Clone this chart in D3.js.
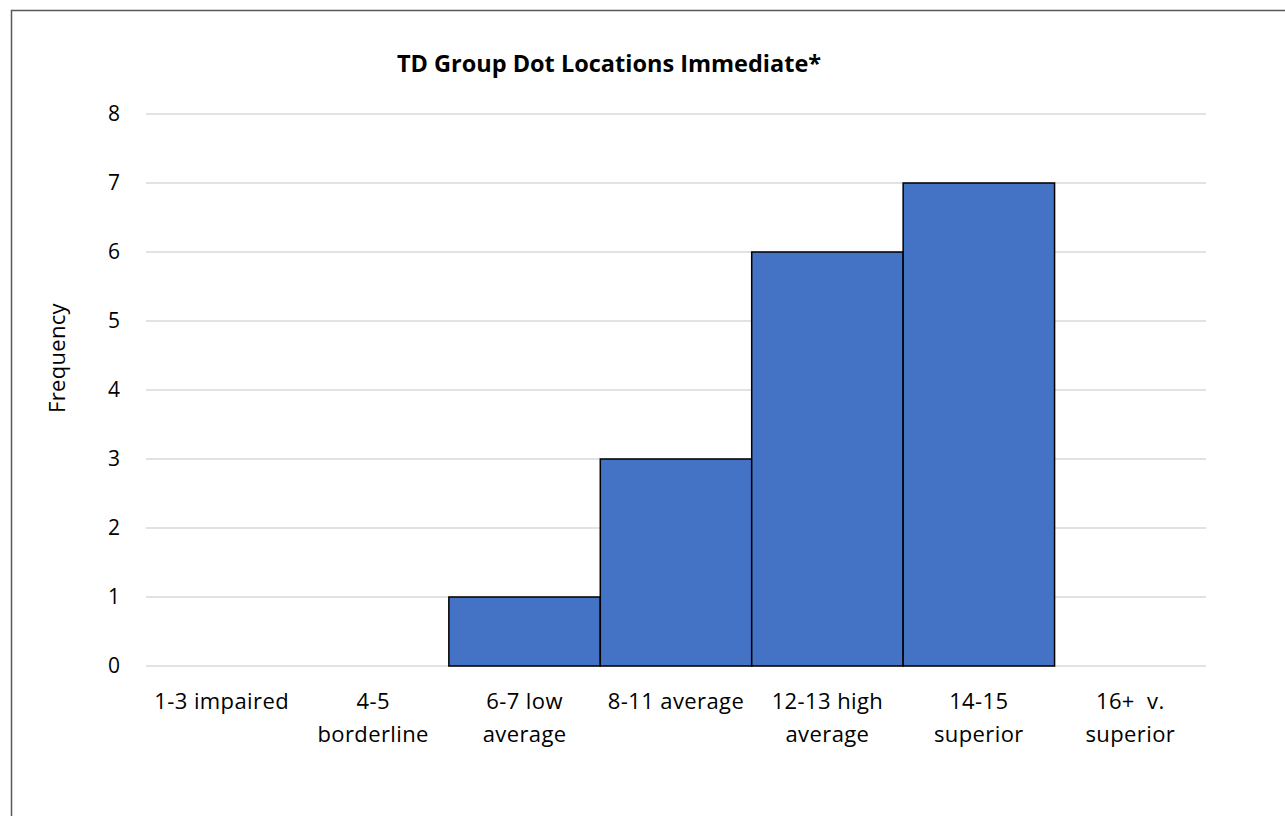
<!DOCTYPE html>
<html lang="en">
<head>
    <meta charset="UTF-8">
    <title>TD Group Dot Locations Immediate*</title>
    <style>
        body { margin: 0; background: #fff; }
        text { font-family: "Open Sans", sans-serif; fill: #000; }
    </style>
</head>
<body>
    <div id="chart"></div>
    <script src="https://d3js.org/d3.v7.min.js"></script>
    <script>
        var categories = ["1-3 impaired", "4-5 borderline", "6-7 low average", "8-11 average",
                          "12-13 high average", "14-15 superior", "16+  v. superior"];
        // label lines as drawn under the axis
        var labelLines = [["1-3 impaired"], ["4-5", "borderline"], ["6-7 low", "average"],
                          ["8-11 average"], ["12-13 high", "average"], ["14-15", "superior"],
                          ["16+\u00a0 v.", "superior"]];
        var frequency = [0, 0, 1, 3, 6, 7, 0];
        var yTicks = [0, 1, 2, 3, 4, 5, 6, 7, 8];

        var W = 1285, H = 816;
        var margin = {top: 114, right: 79, bottom: 150, left: 146},
            width = W - margin.left - margin.right,
            height = H - margin.top - margin.bottom;

        var svg = d3.select('#chart')
            .append('svg')
                .attr('width', W)
                .attr('height', H);

        // outer chart border
        svg.append('rect')
            .attr('x', 11.5)
            .attr('y', 10.5)
            .attr('width', W + 20)
            .attr('height', H + 20)
            .attr('fill', 'none')
            .attr('stroke', '#595959')
            .attr('stroke-width', 1.5);

        svg.append('text')
            .attr('x', 609)
            .attr('y', 72)
            .attr('text-anchor', 'middle')
            .style('font-size', '23.5px')
            .style('font-weight', 'bold')
            .text('TD Group Dot Locations Immediate*');

        var g = svg.append('g')
            .attr('transform', 'translate(' + margin.left + ',' + margin.top + ')');

        var x = d3.scaleBand()
            .domain(categories)
            .range([0, width])
            .padding(0);

        var y = d3.scaleLinear()
            .domain([0, 8])
            .range([height, 0]);

        // gridlines
        g.append('g')
            .selectAll('line')
            .data(yTicks)
            .enter().append('line')
                .attr('x1', 0)
                .attr('x2', width)
                .attr('y1', d => y(d))
                .attr('y2', d => y(d))
                .attr('stroke', '#d9d9d9')
                .attr('stroke-width', 1.5);

        // y axis labels
        var yAxis = g.append('g')
            .call(d3.axisLeft(y).tickValues(yTicks).tickSize(0).tickPadding(26));
        yAxis.select('.domain').remove();
        yAxis.selectAll('text')
            .style('font-size', '21px')
            .style('font-family', '"Open Sans", sans-serif');

        var bins = categories.map((c, i) => ({cat: c, value: frequency[i]}))
            .filter(d => d.value > 0);

        // bars
        g.append('g')
            .selectAll('rect')
            .data(bins)
            .enter().append('rect')
                .attr('x', d => x(d.cat))
                .attr('y', d => y(d.value))
                .attr('width', x.bandwidth())
                .attr('height', d => y(0) - y(d.value))
                .attr('fill', '#4472c4')
                .attr('stroke', '#000')
                .attr('stroke-width', 1.5);

        // category labels
        var xl = g.append('g')
            .selectAll('text')
            .data(categories)
            .enter().append('text')
                .attr('y', height + 43)
                .attr('text-anchor', 'middle')
                .style('font-size', '22px')
                .style('letter-spacing', '0.4px');
        xl.each(function(d, i) {
            var t = d3.select(this);
            labelLines[i].forEach(function(line, k) {
                t.append('tspan')
                    .attr('x', x(d) + x.bandwidth() / 2)
                    .attr('dy', k === 0 ? 0 : 33)
                    .text(line);
            });
        });

        svg.append('text')
            .attr('transform', 'translate(65,358) rotate(-90)')
            .attr('text-anchor', 'middle')
            .style('font-size', '22px')
            .style('letter-spacing', '0.3px')
            .text('Frequency');
    </script>
</body>
</html>
